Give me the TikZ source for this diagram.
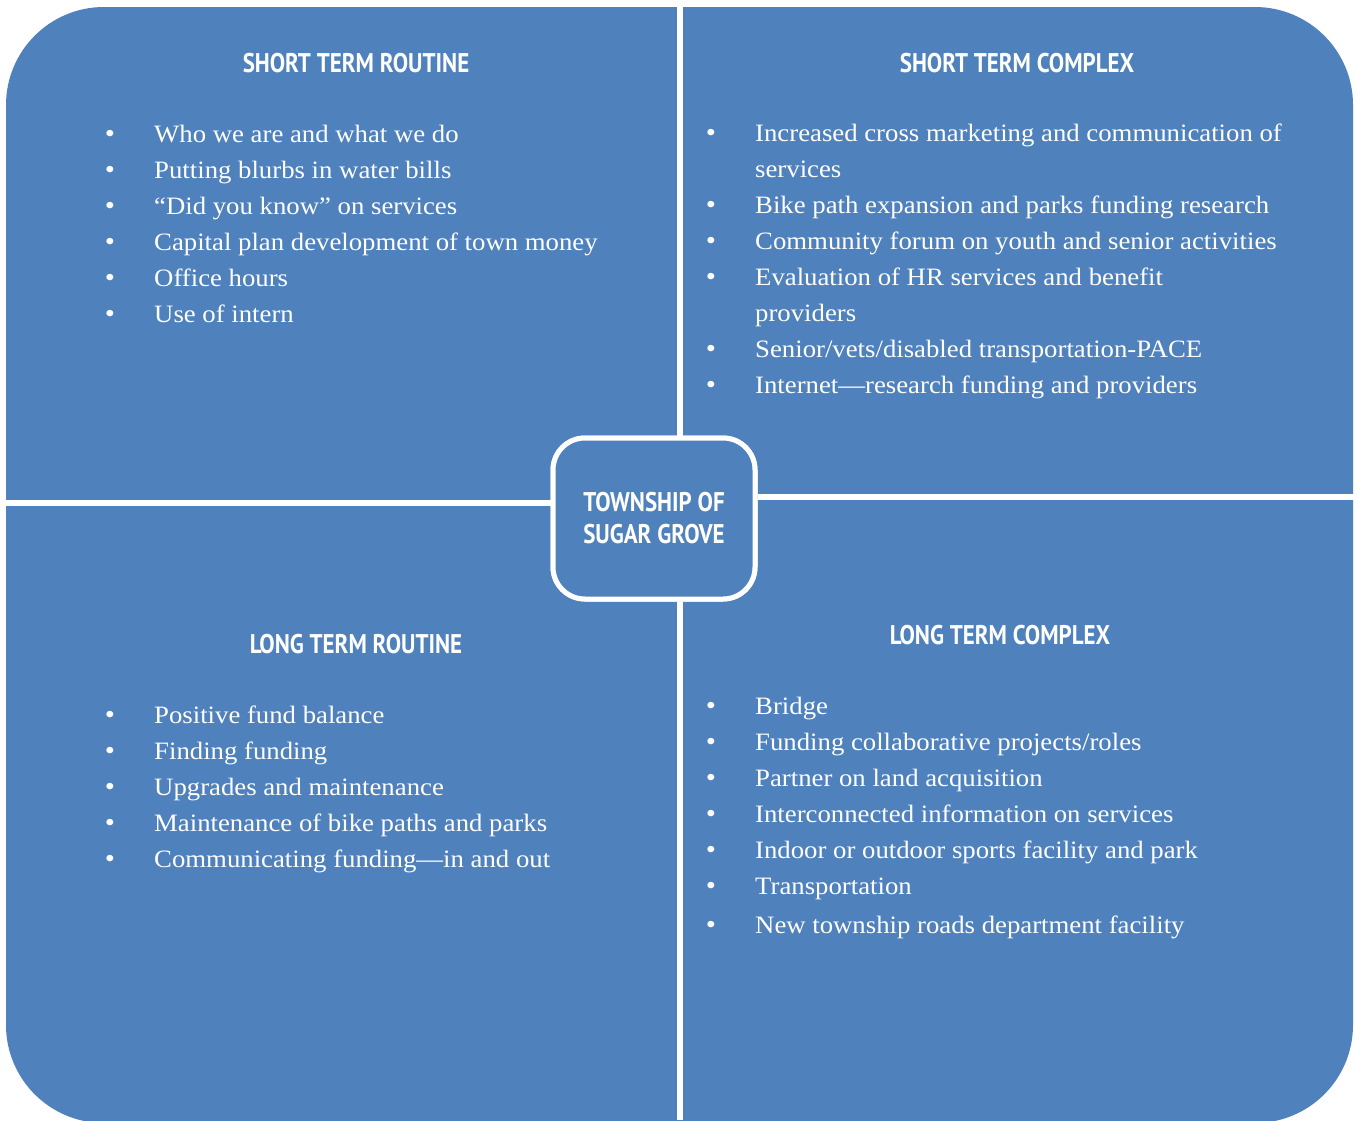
\documentclass[tikz,border=0pt]{standalone}
\usepackage{fontspec}
\setmainfont{Liberation Serif}[FakeStretch=1.07]
\newfontfamily\headfont[FakeStretch=0.85]{PT Sans}
\definecolor{qblue}{HTML}{4F81BD}
\newcommand\bitem[4]{%
  \node[bul] (#1b) at (#2-44,#3) {•};
  \node[item] (#1) at (#2,#3) {#4};}
\newcommand\citem[4]{\node[item] (#1) at (#2,#3) {#4};}
\begin{document}
\begin{tikzpicture}[x=1pt,y=-1pt,
  head/.style={font=\headfont\bfseries\fontsize{27}{32}\selectfont, text=white, inner sep=0pt},
  item/.style={font=\fontsize{25}{36}\selectfont, text=white, anchor=mid west, inner sep=0pt, yshift=-6pt},
  bul/.style={font=\fontsize{27}{30}\selectfont, text=white, anchor=mid, inner sep=0pt, yshift=-6pt},
  sep/.style={draw=white, line width=6pt},
  hub/.style={draw=white, line width=5pt, fill=qblue, rounded corners=32pt,
    minimum width=202pt, minimum height=161pt, align=center, text=white,
    font=\headfont\bfseries\fontsize{27}{32}\selectfont}]
\useasboundingbox (0,0) rectangle (1355,1120);
\fill[white] (0,0) rectangle (1355,1120);
% quadrant background
\fill[qblue, rounded corners=98pt] (6,7) rectangle (1353,1123);
% separators
\coordinate (vt) at (680,0);
\coordinate (vb) at (680,1120);
\coordinate (hl) at (0,503);
\coordinate (hr) at (1355,497);
\node[hub] (hubn) at (654,518.5) {TOWNSHIP OF\\SUGAR GROVE};
\draw[sep] (vt) -- (hubn.north -| vt);
\draw[sep] (hubn.south -| vb) -- (vb);
\draw[sep] (hl) -- (hubn.west |- hl);
\draw[sep] (hubn.east |- hr) -- (hr);
\node[hub] at (hubn) {TOWNSHIP OF\\SUGAR GROVE};
% headings
\node[head] (h1) at (356,63) {SHORT TERM ROUTINE};
\node[head] (h2) at (1017,63) {SHORT TERM COMPLEX};
\node[head] (h3) at (356,644) {LONG TERM ROUTINE};
\node[head] (h4) at (1000,635) {LONG TERM COMPLEX};
% short term routine
\bitem{a1}{154}{134}{Who we are and what we do}
\bitem{a2}{154}{170}{Putting blurbs in water bills}
\bitem{a3}{154}{206}{“Did you know” on services}
\bitem{a4}{154}{242}{Capital plan development of town money}
\bitem{a5}{154}{278}{Office hours}
\bitem{a6}{154}{314}{Use of intern}
% short term complex
\bitem{b1}{755}{133}{Increased cross marketing and communication of}
\citem{b1c}{755}{169}{services}
\bitem{b2}{755}{205}{Bike path expansion and parks funding research}
\bitem{b3}{755}{241}{Community forum on youth and senior activities}
\bitem{b4}{755}{277}{Evaluation of HR services and benefit}
\citem{b4c}{755}{313}{providers}
\bitem{b5}{755}{349}{Senior/vets/disabled transportation-PACE}
\bitem{b6}{755}{385}{Internet—research funding and providers}
% long term routine
\bitem{c1}{154}{715}{Positive fund balance}
\bitem{c2}{154}{751}{Finding funding}
\bitem{c3}{154}{787}{Upgrades and maintenance}
\bitem{c4}{154}{823}{Maintenance of bike paths and parks}
\bitem{c5}{154}{859}{Communicating funding—in and out}
% long term complex
\bitem{d1}{755}{706}{Bridge}
\bitem{d2}{755}{742}{Funding collaborative projects/roles}
\bitem{d3}{755}{778}{Partner on land acquisition}
\bitem{d4}{755}{814}{Interconnected information on services}
\bitem{d5}{755}{850}{Indoor or outdoor sports facility and park}
\bitem{d6}{755}{886}{Transportation}
\bitem{d7}{755}{925}{New township roads department facility}
\end{tikzpicture}
\end{document}
